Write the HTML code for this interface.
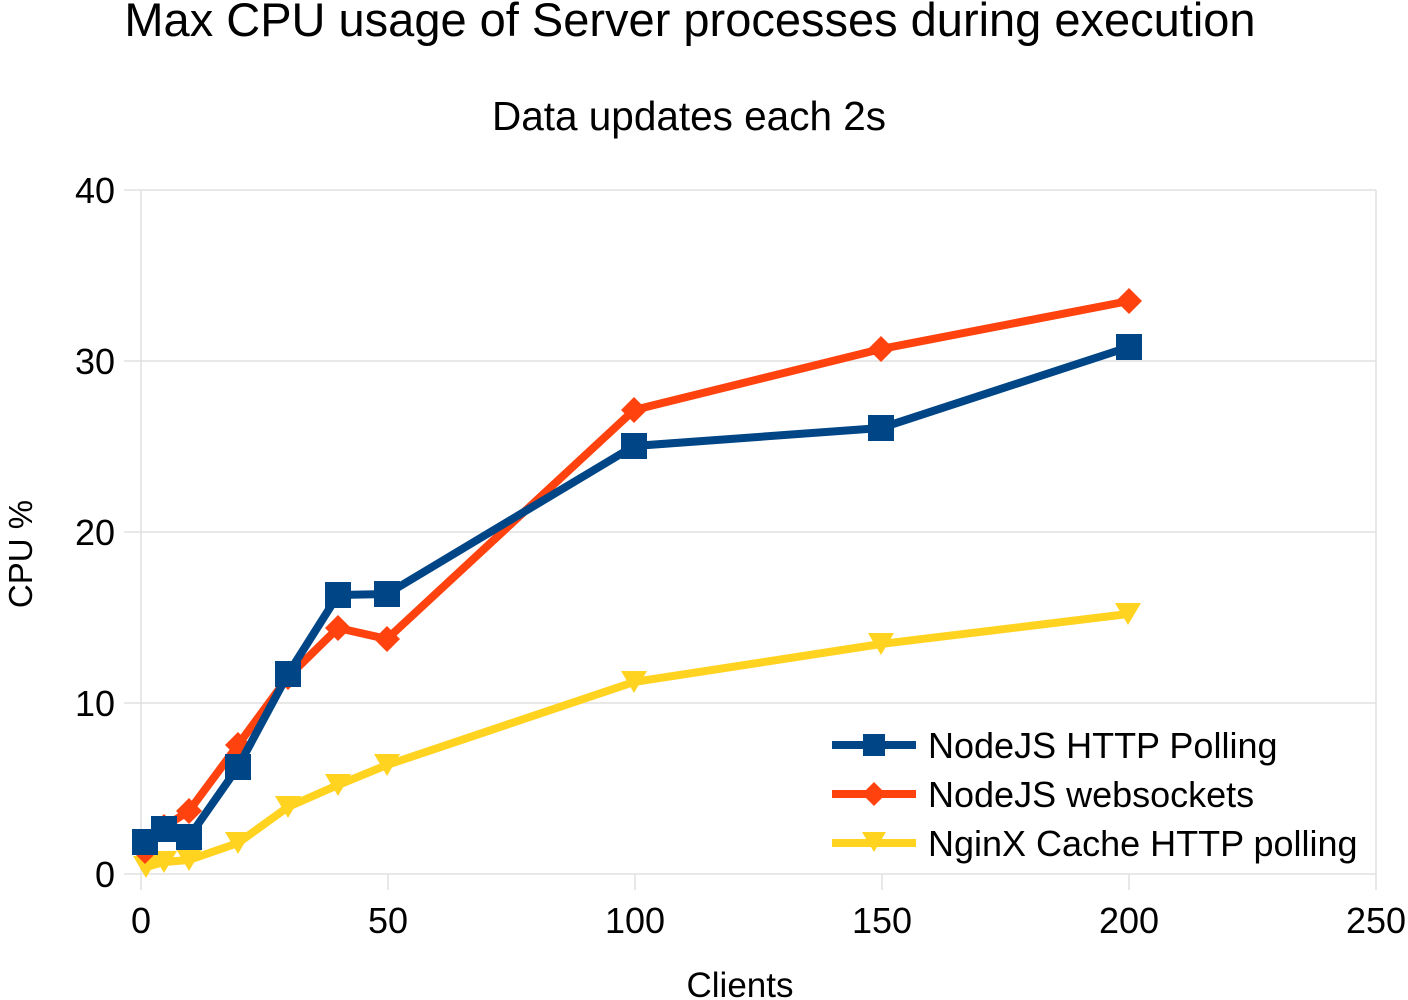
<!DOCTYPE html>
<html><head><meta charset="utf-8"><style>
html,body{margin:0;padding:0;background:#fff;width:1408px;height:1000px;overflow:hidden}
text{font-family:"Liberation Sans",sans-serif;fill:#000}
</style></head><body>
<svg width="1408" height="1000" viewBox="0 0 1408 1000" xmlns="http://www.w3.org/2000/svg">
<text x="690" y="36" font-size="47" text-anchor="middle">Max CPU usage of Server processes during execution</text>
<text x="689" y="130" font-size="40.5" text-anchor="middle">Data updates each 2s</text>
<g stroke="#e0e0e0" stroke-width="1.5" fill="none">
<line x1="124" y1="190" x2="1376" y2="190"/>
<line x1="124" y1="361" x2="1376" y2="361"/>
<line x1="124" y1="532" x2="1376" y2="532"/>
<line x1="124" y1="703" x2="1376" y2="703"/>
<line x1="124" y1="874" x2="1376" y2="874"/>
<line x1="141" y1="190" x2="141" y2="890"/>
<line x1="1376" y1="190" x2="1376" y2="890"/>
<line x1="388" y1="874" x2="388" y2="890"/>
<line x1="635" y1="874" x2="635" y2="890"/>
<line x1="882" y1="874" x2="882" y2="890"/>
<line x1="1129" y1="874" x2="1129" y2="890"/>
</g>
<g font-size="36" text-anchor="end">
<text x="115" y="203">40</text><text x="115" y="374">30</text><text x="115" y="545">20</text><text x="115" y="716">10</text><text x="115" y="887">0</text>
</g>
<g font-size="36" text-anchor="middle">
<text x="141" y="933">0</text><text x="388" y="933">50</text><text x="635" y="933">100</text><text x="882" y="933">150</text><text x="1129" y="933">200</text><text x="1376" y="933">250</text>
</g>
<text x="740" y="997" font-size="35" text-anchor="middle">Clients</text>
<text transform="translate(32,554) rotate(-90)" font-size="33" text-anchor="middle">CPU %</text>

<polyline fill="none" stroke="#ffd320" stroke-width="8" stroke-linejoin="round" points="146,867 164,862 189,860 238,843 288,807 338,785 387,765 634,682 881,644 1128,614"/>
<g fill="#ffd320">
<path d="M133,856h26l-13,22z"/><path d="M151,851h26l-13,22z"/><path d="M176,849h26l-13,22z"/><path d="M225,832h26l-13,22z"/><path d="M275,796h26l-13,22z"/><path d="M325,774h26l-13,22z"/><path d="M374,754h26l-13,22z"/><path d="M621,671h26l-13,22z"/><path d="M868,633h26l-13,22z"/><path d="M1115,603h26l-13,22z"/>
</g>
<polyline fill="none" stroke="#ff420e" stroke-width="8" stroke-linejoin="round" points="145,851 164,827 189,811 238,745 288,677 338,628 387,639 634,410 881,349 1129,301"/>
<g fill="#ff420e">
<path d="M145,838l13,13l-13,13l-13,-13z"/><path d="M164,814l13,13l-13,13l-13,-13z"/><path d="M189,798l13,13l-13,13l-13,-13z"/><path d="M238,732l13,13l-13,13l-13,-13z"/><path d="M288,664l13,13l-13,13l-13,-13z"/><path d="M338,615l13,13l-13,13l-13,-13z"/><path d="M387,626l13,13l-13,13l-13,-13z"/><path d="M634,397l13,13l-13,13l-13,-13z"/><path d="M881,336l13,13l-13,13l-13,-13z"/><path d="M1129,288l13,13l-13,13l-13,-13z"/>
</g>
<polyline fill="none" stroke="#004586" stroke-width="8" stroke-linejoin="round" points="145,842 164,829 189,837 238,767 288,674 338,595 387,594 634,446 881,428 1129,347"/>
<g fill="#004586">
<rect x="132" y="829" width="26" height="26"/><rect x="151" y="816" width="26" height="26"/><rect x="176" y="824" width="26" height="26"/><rect x="225" y="754" width="26" height="26"/><rect x="275" y="661" width="26" height="26"/><rect x="325" y="582" width="26" height="26"/><rect x="374" y="581" width="26" height="26"/><rect x="621" y="433" width="26" height="26"/><rect x="868" y="415" width="26" height="26"/><rect x="1116" y="334" width="26" height="26"/>
</g>
<line x1="832" y1="745" x2="916" y2="745" stroke="#004586" stroke-width="8"/>
<rect x="863" y="734" width="22" height="22" fill="#004586"/>
<line x1="832" y1="794" x2="916" y2="794" stroke="#ff420e" stroke-width="8"/>
<path d="M874,782l12,12l-12,12l-12,-12z" fill="#ff420e"/>
<line x1="832" y1="843" x2="916" y2="843" stroke="#ffd320" stroke-width="8"/>
<path d="M862,832h24l-12,20z" fill="#ffd320"/>
<g font-size="36">
<text x="928" y="758">NodeJS HTTP Polling</text>
<text x="928" y="807">NodeJS websockets</text>
<text x="928" y="856">NginX Cache HTTP polling</text>
</g>
</svg>
</body></html>
